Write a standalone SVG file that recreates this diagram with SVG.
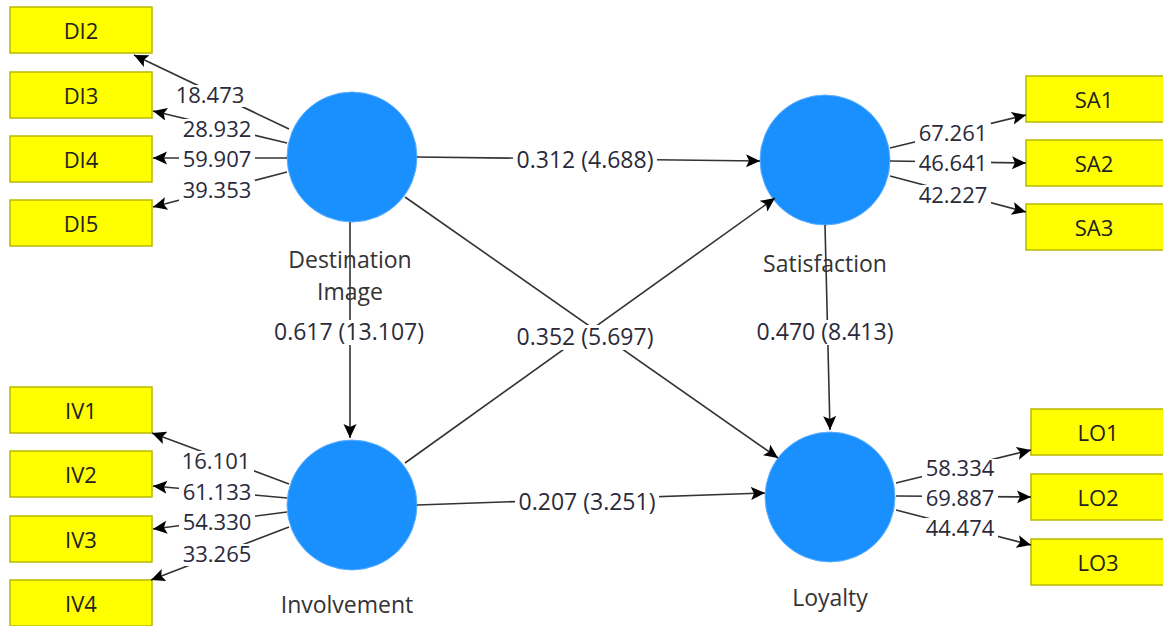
<svg xmlns="http://www.w3.org/2000/svg" width="1163" height="626" viewBox="0 0 1163 626">
<style>
.ind rect{fill:#ffff00;stroke:#b8b800;stroke-width:1.5}
.ind text{font-family:"Open Sans","Noto Sans",sans-serif;font-size:22px;fill:#222;text-anchor:middle}
.lv circle{fill:#1a90ff;stroke:#5fb0ff;stroke-width:1}
.lv text{font-family:"Open Sans","Noto Sans",sans-serif;font-size:23px;fill:#333;text-anchor:middle}
.ln{stroke:#333;stroke-width:1.6;fill:none;marker-end:url(#ah)}
.bg rect{fill:#fff}
.lb{font-family:"Open Sans","Noto Sans",sans-serif;font-size:22px;fill:#2a2a3a;text-anchor:middle}
.pl{font-family:"Open Sans","Noto Sans",sans-serif;font-size:23px;fill:#2a2a3a;text-anchor:middle}
</style>
<defs>
<marker id="ah" markerUnits="userSpaceOnUse" markerWidth="16" markerHeight="14" refX="14" refY="6.5" orient="auto">
<path d="M0,0 L14,6.5 L0,13 L3,6.5 z" fill="#000"/>
</marker>
</defs>
<rect width="1163" height="626" fill="#fff"/>

<g id="DI2" class="ind"><rect x="10" y="7" width="142" height="46"/><text x="81" y="39">DI2</text></g>
<g id="DI3" class="ind"><rect x="10" y="72" width="142" height="46"/><text x="81" y="104">DI3</text></g>
<g id="DI4" class="ind"><rect x="10" y="136" width="142" height="46"/><text x="81" y="168">DI4</text></g>
<g id="DI5" class="ind"><rect x="10" y="200" width="142" height="46"/><text x="81" y="232">DI5</text></g>

<g id="IV1" class="ind"><rect x="10" y="387" width="142" height="46"/><text x="81" y="419">IV1</text></g>
<g id="IV2" class="ind"><rect x="10" y="451" width="142" height="46"/><text x="81" y="483">IV2</text></g>
<g id="IV3" class="ind"><rect x="10" y="516" width="142" height="46"/><text x="81" y="548">IV3</text></g>
<g id="IV4" class="ind"><rect x="10" y="580" width="142" height="46"/><text x="81" y="612">IV4</text></g>

<g id="SA1" class="ind"><rect x="1026" y="76" width="140" height="46"/><text x="1094" y="108">SA1</text></g>
<g id="SA2" class="ind"><rect x="1026" y="140" width="140" height="46"/><text x="1094" y="172">SA2</text></g>
<g id="SA3" class="ind"><rect x="1026" y="204" width="140" height="46"/><text x="1094" y="236">SA3</text></g>

<g id="LO1" class="ind"><rect x="1031" y="409" width="135" height="46"/><text x="1098" y="441">LO1</text></g>
<g id="LO2" class="ind"><rect x="1031" y="474" width="135" height="46"/><text x="1098" y="506">LO2</text></g>
<g id="LO3" class="ind"><rect x="1031" y="539" width="135" height="46"/><text x="1098" y="571">LO3</text></g>

<g id="DestinationImage" class="lv"><circle cx="352" cy="157" r="65"/><text x="350" y="268">Destination</text><text x="350" y="300">Image</text></g>
<g id="Involvement" class="lv"><circle cx="352" cy="505" r="65"/><text x="347" y="613">Involvement</text></g>
<g id="Satisfaction" class="lv"><circle cx="825" cy="160" r="65"/><text x="825" y="272">Satisfaction</text></g>
<g id="Loyalty" class="lv"><circle cx="830" cy="497" r="65"/><text x="830" y="606">Loyalty</text></g>

<g id="connectors">
<line class="ln" x1="289" y1="129" x2="134" y2="55"/>
<line class="ln" x1="287" y1="143" x2="153" y2="111"/>
<line class="ln" x1="287" y1="158" x2="153" y2="158"/>
<line class="ln" x1="287" y1="172" x2="153" y2="207"/>

<line class="ln" x1="289" y1="484" x2="152" y2="433"/>
<line class="ln" x1="287" y1="498" x2="153" y2="486"/>
<line class="ln" x1="287" y1="512" x2="153" y2="529"/>
<line class="ln" x1="289" y1="527" x2="151" y2="580"/>

<line class="ln" x1="890" y1="148" x2="1026" y2="115"/>
<line class="ln" x1="890" y1="161" x2="1026" y2="163"/>
<line class="ln" x1="890" y1="176" x2="1026" y2="212"/>

<line class="ln" x1="896" y1="483" x2="1031" y2="450"/>
<line class="ln" x1="896" y1="496" x2="1031" y2="497"/>
<line class="ln" x1="896" y1="510" x2="1031" y2="545"/>

<line class="ln" x1="417" y1="157" x2="760" y2="161"/>
<line class="ln" x1="405" y1="197" x2="778" y2="458"/>
<line class="ln" x1="405" y1="463" x2="775" y2="198"/>
<line class="ln" x1="417" y1="505" x2="765" y2="493"/>
<line class="ln" x1="350" y1="222" x2="350" y2="438"/>
<line class="ln" x1="825" y1="225" x2="830" y2="430"/>

<g class="bg">
<rect x="172" y="85" width="76" height="22"/>
<rect x="179" y="119" width="76" height="22"/>
<rect x="179" y="149" width="76" height="22"/>
<rect x="179" y="180" width="76" height="22"/>

<rect x="178" y="451" width="76" height="22"/>
<rect x="179" y="482" width="76" height="22"/>
<rect x="179" y="511" width="76" height="22"/>
<rect x="179" y="544" width="76" height="22"/>

<rect x="915" y="123" width="76" height="22"/>
<rect x="915" y="153" width="76" height="22"/>
<rect x="915" y="185" width="76" height="22"/>

<rect x="922" y="459" width="76" height="22"/>
<rect x="922" y="487" width="76" height="22"/>
<rect x="922" y="518" width="76" height="22"/>

<rect x="513" y="148" width="144" height="25"/>
<rect x="272" y="320" width="154" height="25"/>
<rect x="513" y="325" width="144" height="25"/>
<rect x="753" y="320" width="144" height="25"/>
<rect x="515" y="490" width="144" height="25"/>
</g>

<text class="lb" x="210" y="103">18.473</text>
<text class="lb" x="217" y="137">28.932</text>
<text class="lb" x="217" y="167">59.907</text>
<text class="lb" x="217" y="198">39.353</text>

<text class="lb" x="216" y="469">16.101</text>
<text class="lb" x="217" y="500">61.133</text>
<text class="lb" x="217" y="530">54.330</text>
<text class="lb" x="217" y="562">33.265</text>

<text class="lb" x="953" y="141">67.261</text>
<text class="lb" x="953" y="171">46.641</text>
<text class="lb" x="953" y="203">42.227</text>

<text class="lb" x="960" y="476">58.334</text>
<text class="lb" x="960" y="506">69.887</text>
<text class="lb" x="960" y="536">44.474</text>

<text class="pl" x="585" y="168">0.312 (4.688)</text>
<text class="pl" x="349" y="340">0.617 (13.107)</text>
<text class="pl" x="585" y="345">0.352 (5.697)</text>
<text class="pl" x="825" y="340">0.470 (8.413)</text>
<text class="pl" x="587" y="510">0.207 (3.251)</text>
</g>
</svg>
